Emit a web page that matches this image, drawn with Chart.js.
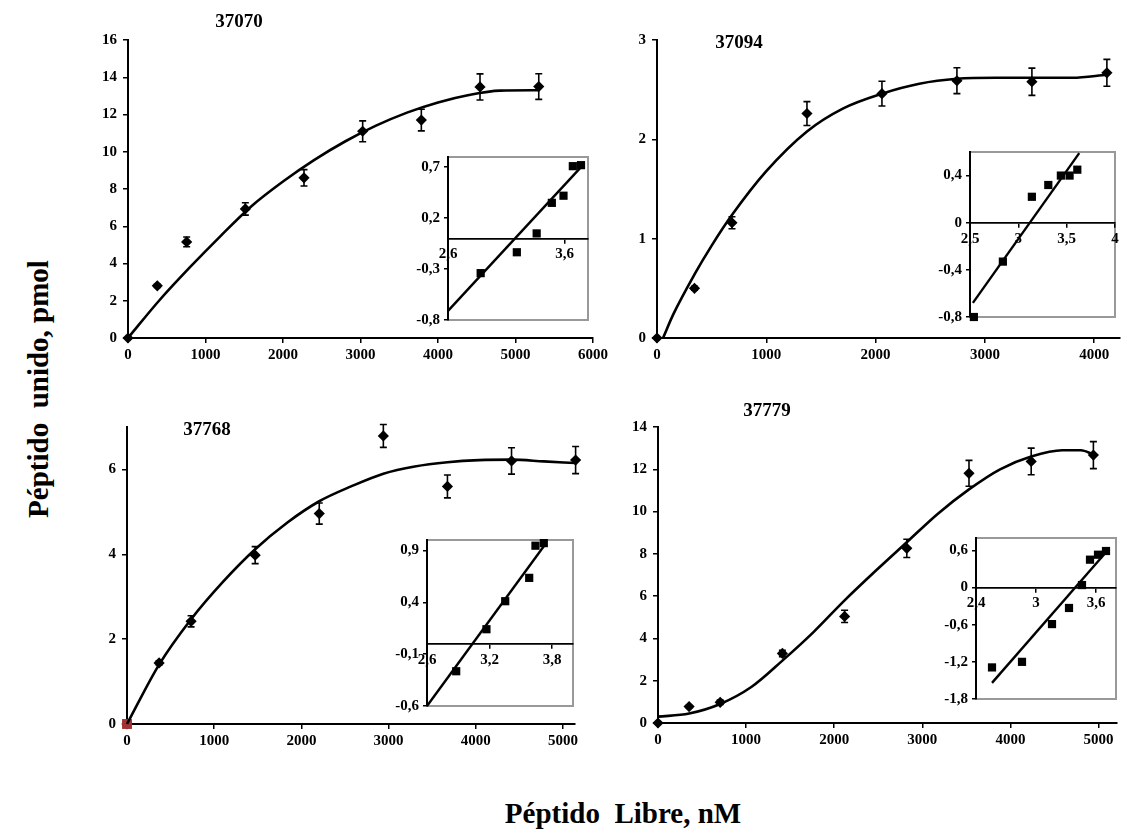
<!DOCTYPE html>
<html>
<head>
<meta charset="utf-8">
<script src="https://cdn.jsdelivr.net/npm/chart.js@4.4.0/dist/chart.umd.min.js"></script>
<style>
  body { margin: 0; background: #fff; }
  #page { position: relative; width: 1129px; height: 829px; overflow: hidden;
          font-family: "Liberation Serif", "Times New Roman", serif; font-weight: bold; color: #000; }
  canvas { position: absolute; }
  .lbl { position: absolute; transform: translate(-50%, -50%); white-space: pre; }
  .rot { transform: translate(-50%, -50%) rotate(-90deg); }
</style>
</head>
<body>
<div id="page">
  <canvas id="main1"></canvas>
  <canvas id="main2"></canvas>
  <canvas id="main3"></canvas>
  <canvas id="main4"></canvas>
  <canvas id="inset1"></canvas>
  <canvas id="inset2"></canvas>
  <canvas id="inset3"></canvas>
  <canvas id="inset4"></canvas>
  <div class="lbl" style="left:239px;top:21px;font-size:19px">37070</div>
  <div class="lbl" style="left:739px;top:42px;font-size:19px">37094</div>
  <div class="lbl" style="left:207px;top:429px;font-size:19px">37768</div>
  <div class="lbl" style="left:767px;top:410px;font-size:19px">37779</div>
  <div class="lbl rot" style="left:38px;top:389px;font-size:29px">Péptido  unido, pmol</div>
  <div class="lbl" style="left:623px;top:813px;font-size:29px">Péptido  Libre, nM</div>
</div>
<script>
// --- 37070 ---
const p1X = [0, 378, 757, 1514, 2271, 3028, 3785, 4542, 5300];
const p1Y = [0, 2.8, 5.16, 6.93, 8.6, 11.1, 11.7, 13.48, 13.5];
const p1Err = [0, 0.08, 0.26, 0.33, 0.44, 0.56, 0.58, 0.7, 0.69];
const p1CurveX = [0, 400, 800, 1200, 1600, 2000, 2400, 2800, 3200, 3600, 4000, 4400, 4800, 5300];
const p1CurveY = [0, 2.0, 3.8, 5.5, 7.1, 8.4, 9.55, 10.55, 11.4, 12.1, 12.65, 13.05, 13.28, 13.3];
const p1XTicks = [0, 1000, 2000, 3000, 4000, 5000, 6000];
const p1YTicks = [0, 2, 4, 6, 8, 10, 12, 14, 16];

const i1X = [2.88, 3.19, 3.36, 3.49, 3.59, 3.67, 3.74];
const i1Y = [-0.34, -0.135, 0.05, 0.35, 0.42, 0.71, 0.72];
const i1LineX = [2.6, 3.74];
const i1LineY = [-0.71, 0.7];
const i1XTicks = [2.6, 3.6];
const i1YTicks = [-0.8, -0.3, 0.2, 0.7];

// --- 37094 ---
const p2X = [0, 343, 686, 1372, 2058, 2744, 3430, 4116];
const p2Y = [0, 0.5, 1.16, 2.26, 2.46, 2.59, 2.58, 2.67];
const p2Err = [0, 0.02, 0.06, 0.12, 0.125, 0.13, 0.137, 0.135];
const p2CurveX = [55, 150, 343, 500, 687, 1000, 1372, 1700, 2058, 2400, 2744, 3100, 3430, 3800, 4116];
const p2CurveY = [0, 0.24, 0.64, 0.93, 1.24, 1.68, 2.08, 2.31, 2.46, 2.56, 2.61, 2.62, 2.62, 2.62, 2.65];
const p2XTicks = [0, 1000, 2000, 3000, 4000];
const p2YTicks = [0, 1, 2, 3];

const i2X = [2.54, 2.84, 3.14, 3.31, 3.44, 3.53, 3.61];
const i2Y = [-0.8, -0.33, 0.22, 0.32, 0.4, 0.4, 0.45];
const i2LineX = [2.53, 3.63];
const i2LineY = [-0.68, 0.59];
const i2XTicks = [2.5, 3, 3.5, 4];
const i2YTicks = [-0.8, -0.4, 0, 0.4];

// --- 37768 ---
const p3X = [0, 368, 735, 1470, 2205, 2940, 3675, 4410, 5145];
const p3Y = [0, 1.44, 2.42, 3.98, 4.96, 6.79, 5.6, 6.2, 6.22];
const p3Err = [0, 0.05, 0.13, 0.2, 0.25, 0.27, 0.27, 0.31, 0.32];
const p3CurveX = [0, 368, 735, 1100, 1470, 1840, 2205, 2570, 2940, 3300, 3675, 4040, 4410, 4780, 5145];
const p3CurveY = [0, 1.4, 2.47, 3.35, 4.12, 4.75, 5.25, 5.6, 5.9, 6.07, 6.17, 6.22, 6.23, 6.19, 6.15];
const p3Start = [0];
const p3XTicks = [0, 1000, 2000, 3000, 4000, 5000];
const p3YTicks = [0, 2, 4, 6];

const i3X = [2.88, 3.17, 3.35, 3.58, 3.64, 3.72];
const i3Y = [-0.265, 0.14, 0.41, 0.635, 0.945, 0.97];
const i3LineX = [2.6, 3.72];
const i3LineY = [-0.6, 0.94];
const i3XTicks = [2.6, 3.2, 3.8];
const i3YTicks = [-0.6, -0.1, 0.4, 0.9];

// --- 37779 ---
const p4X = [0, 353, 706, 1412, 2118, 2824, 3530, 4236, 4942];
const p4Y = [0, 0.775, 0.98, 3.29, 5.04, 8.26, 11.81, 12.37, 12.67];
const p4Err = [0, 0.05, 0.1, 0.15, 0.29, 0.43, 0.61, 0.63, 0.64];
const p4CurveX = [0, 353, 706, 1059, 1412, 1765, 2118, 2471, 2824, 3177, 3530, 3883, 4236, 4589, 4800, 4942];
const p4CurveY = [0.3, 0.45, 0.9, 1.7, 2.95, 4.3, 5.8, 7.2, 8.55, 9.9, 11.05, 12.0, 12.6, 12.9, 12.9, 12.7];
const p4XTicks = [0, 1000, 2000, 3000, 4000, 5000];
const p4YTicks = [0, 2, 4, 6, 8, 10, 12, 14];

const i4X = [2.56, 2.86, 3.16, 3.33, 3.46, 3.54, 3.62, 3.7];
const i4Y = [-1.29, -1.2, -0.59, -0.33, 0.04, 0.45, 0.53, 0.59];
const i4LineX = [2.56, 3.7];
const i4LineY = [-1.54, 0.57];
const i4XTicks = [2.4, 3, 3.6];
const i4YTicks = [-1.8, -1.2, -0.6, 0, 0.6];

const tickFont = { family: "Liberation Serif", size: 15, weight: "bold" };
const pts = (xs, ys) => xs.map((x, i) => ({ x, y: ys[i] }));
const fixedTicks = (values) => (scale) => { scale.ticks = values.map((value) => ({ value })); };

// barras de error verticales con remates
const errorBars = {
  id: "errorBars",
  afterDatasetsDraw(chart) {
    const { ctx, scales: { x, y } } = chart;
    chart.data.datasets.forEach((ds) => {
      if (!ds.errors) return;
      ctx.save();
      ctx.strokeStyle = "#000";
      ctx.lineWidth = 1.6;
      ds.data.forEach((p, i) => {
        const e = ds.errors[i];
        if (!e) return;
        const px = x.getPixelForValue(p.x);
        const top = y.getPixelForValue(p.y + e);
        const bot = y.getPixelForValue(p.y - e);
        ctx.beginPath();
        ctx.moveTo(px, top); ctx.lineTo(px, bot);
        ctx.moveTo(px - 3.5, top); ctx.lineTo(px + 3.5, top);
        ctx.moveTo(px - 3.5, bot); ctx.lineTo(px + 3.5, bot);
        ctx.stroke();
      });
      ctx.restore();
    });
  },
};

// marco gris del inserto
const insetFrame = {
  id: "insetFrame",
  beforeDraw(chart) {
    const { ctx, chartArea: a } = chart;
    ctx.save();
    ctx.fillStyle = "#fff";
    ctx.fillRect(a.left, a.top, a.width, a.height);
    ctx.strokeStyle = "#999";
    ctx.lineWidth = 2;
    ctx.strokeRect(a.left, a.top, a.width, a.height);
    ctx.restore();
  },
};

function placeCanvas(id, box, pad) {
  const canvas = document.getElementById(id);
  canvas.width = box.right - box.left + pad.left + pad.right;
  canvas.height = box.bottom - box.top + pad.top + pad.bottom;
  canvas.style.left = box.left - pad.left + "px";
  canvas.style.top = box.top - pad.top + "px";
  return canvas;
}

function axisStyle(tickLen) {
  return {
    grid: { drawOnChartArea: false, color: "#000", tickLength: tickLen, lineWidth: 1.5 },
    border: { color: "#000", width: 2 },
  };
}

function drawMain(id, box, s) {
  const yW = 44, xH = 30;
  const canvas = placeCanvas(id, box, { left: yW, right: 24, top: 10, bottom: xH });
  const datasets = [
    {
      data: pts(s.curveX, s.curveY), showLine: true, borderColor: "#000", borderWidth: 2.6,
      pointRadius: 0, cubicInterpolationMode: "monotone", clip: false, order: 0,
    },
    {
      data: pts(s.x, s.y), errors: s.err, pointStyle: "rectRot", pointRadius: 5.6,
      backgroundColor: "#000", borderColor: "#000", borderWidth: 0, clip: false, order: 2,
    },
  ];
  if (s.start) {
    datasets.push({
      data: pts(s.start, [0]), pointStyle: "rect", pointRadius: 7,
      backgroundColor: "#a03232", borderWidth: 0, clip: false, order: 1,
    });
  }
  new Chart(canvas, {
    type: "scatter",
    data: { datasets },
    options: {
      responsive: false, animation: false, events: [],
      layout: { padding: { top: 10, right: 24, left: 0, bottom: 0 } },
      plugins: { legend: { display: false }, tooltip: { enabled: false } },
      scales: {
        x: {
          type: "linear", min: 0, max: box.xMax,
          afterBuildTicks: fixedTicks(s.xTicks), afterFit: (sc) => { sc.height = xH; },
          ...axisStyle(5),
          ticks: { color: "#000", font: tickFont, padding: 3, autoSkip: false, maxRotation: 0, callback: (v) => String(v) },
        },
        y: {
          type: "linear", min: 0, max: box.yMax,
          afterBuildTicks: fixedTicks(s.yTicks), afterFit: (sc) => { sc.width = yW; },
          ...axisStyle(5),
          ticks: { color: "#000", font: tickFont, padding: 6, autoSkip: false, callback: (v) => String(v) },
        },
      },
    },
    plugins: [errorBars],
  });
}

function drawInset(id, box, s) {
  const yW = 38;
  const canvas = placeCanvas(id, box, { left: yW, right: 10, top: 9, bottom: 10 });
  new Chart(canvas, {
    type: "scatter",
    data: {
      datasets: [
        {
          data: pts(s.lineX, s.lineY), showLine: true, borderColor: "#000", borderWidth: 2.4,
          pointRadius: 0, clip: false,
        },
        {
          data: pts(s.x, s.y), pointStyle: "rect", pointRadius: 5.8,
          backgroundColor: "#000", borderWidth: 0, clip: false,
        },
      ],
    },
    options: {
      responsive: false, animation: false, events: [],
      layout: { padding: { top: 9, right: 10, left: 0, bottom: 10 } },
      plugins: { legend: { display: false }, tooltip: { enabled: false } },
      scales: {
        x: {
          type: "linear", position: { y: 0 }, min: box.xMin, max: box.xMax,
          afterBuildTicks: fixedTicks(s.xTicks),
          grid: { drawOnChartArea: false, color: "#000", tickLength: 4, lineWidth: 1.5 },
          border: { color: "#000", width: 1.8 },
          ticks: { color: "#000", font: tickFont, padding: 3, autoSkip: false, maxRotation: 0,
                   callback: (v) => String(v).replace(".", ",") },
        },
        y: {
          type: "linear", min: box.yMin, max: box.yMax,
          afterBuildTicks: fixedTicks(s.yTicks), afterFit: (sc) => { sc.width = yW; },
          ...axisStyle(4),
          ticks: { color: "#000", font: tickFont, padding: 4, autoSkip: false,
                   callback: (v) => String(v).replace(".", ",") },
        },
      },
    },
    plugins: [insetFrame],
  });
}

drawMain("main1", { left: 128, right: 593, top: 35, bottom: 338, xMax: 6000, yMax: 16 },
  { x: p1X, y: p1Y, err: p1Err, curveX: p1CurveX, curveY: p1CurveY, xTicks: p1XTicks, yTicks: p1YTicks });
drawMain("main2", { left: 657, right: 1120, top: 35, bottom: 338, xMax: 4236, yMax: 3 },
  { x: p2X, y: p2Y, err: p2Err, curveX: p2CurveX, curveY: p2CurveY, xTicks: p2XTicks, yTicks: p2YTicks });
drawMain("main3", { left: 127, right: 575, top: 422, bottom: 724, xMax: 5138, yMax: 7 },
  { x: p3X, y: p3Y, err: p3Err, curveX: p3CurveX, curveY: p3CurveY, xTicks: p3XTicks, yTicks: p3YTicks, start: p3Start });
drawMain("main4", { left: 658, right: 1117, top: 422, bottom: 723, xMax: 5210, yMax: 14 },
  { x: p4X, y: p4Y, err: p4Err, curveX: p4CurveX, curveY: p4CurveY, xTicks: p4XTicks, yTicks: p4YTicks });

drawInset("inset1", { left: 448, right: 588, top: 153, bottom: 323, xMin: 2.6, xMax: 3.8, yMin: -0.8, yMax: 0.8 },
  { x: i1X, y: i1Y, lineX: i1LineX, lineY: i1LineY, xTicks: i1XTicks, yTicks: i1YTicks });
drawInset("inset2", { left: 970, right: 1115, top: 148, bottom: 320, xMin: 2.5, xMax: 4, yMin: -0.8, yMax: 0.6 },
  { x: i2X, y: i2Y, lineX: i2LineX, lineY: i2LineY, xTicks: i2XTicks, yTicks: i2YTicks });
drawInset("inset3", { left: 427, right: 573, top: 536, bottom: 709, xMin: 2.6, xMax: 4, yMin: -0.6, yMax: 1 },
  { x: i3X, y: i3Y, lineX: i3LineX, lineY: i3LineY, xTicks: i3XTicks, yTicks: i3YTicks });
drawInset("inset4", { left: 976, right: 1116, top: 534, bottom: 702, xMin: 2.4, xMax: 3.8, yMin: -1.8, yMax: 0.8 },
  { x: i4X, y: i4Y, lineX: i4LineX, lineY: i4LineY, xTicks: i4XTicks, yTicks: i4YTicks });
</script>
</body>
</html>
